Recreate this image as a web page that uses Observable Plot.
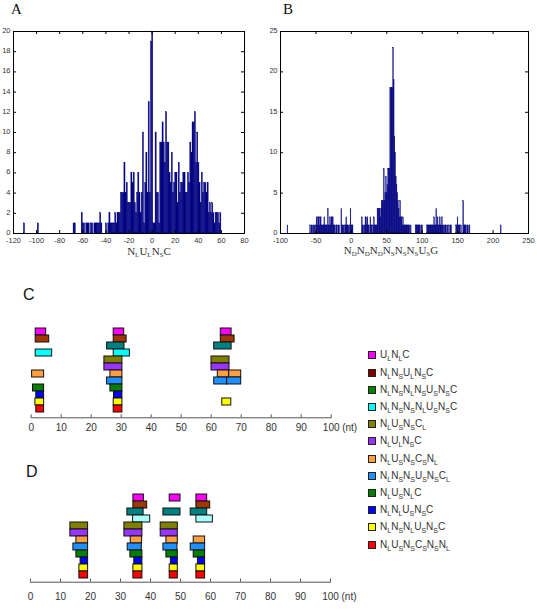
<!DOCTYPE html>
<html><head><meta charset="utf-8">
<script src="https://cdn.jsdelivr.net/npm/d3@7"></script>
<script src="https://cdn.jsdelivr.net/npm/@observablehq/plot@0.6"></script>
<style>
body{margin:0;background:#fff;}
#fig{position:relative;width:537px;height:610px;overflow:hidden;background:#fff;font-family:"Liberation Sans",Arial,sans-serif;}
#fig svg{position:absolute;overflow:hidden;}
.abs{position:absolute;white-space:nowrap;}
.pserif{font-family:"Liberation Serif","Times New Roman",serif;font-size:15px;line-height:15px;color:#111;}
.psans{font-size:16px;line-height:16px;color:#111;}
.xlab{font-family:"Liberation Serif","Times New Roman",serif;font-size:11px;line-height:11px;color:#333;transform:translateX(-50%);}
.xlab sub{font-size:7px;vertical-align:-2px;line-height:0;}
.leg{font-size:10px;line-height:12px;color:#333;}
.leg .sw{position:absolute;left:0;top:2px;width:6px;height:6px;border:1px solid #222;}
.leg .tx{position:absolute;left:12px;top:0;}
.leg sub{font-size:7px;vertical-align:-3px;line-height:0;}
</style></head><body><div id="fig"></div><script>
// ---------- Panel A histogram (bin left edge, count) ----------
const aBins = [
 -111,-99,-68,-67,-61,-60,-59,-57,-56,-55,
 -53,-52,-50,-49,-48,-47,-46,-45,-44,-40,
 -38,-37,-36,-35,-34,-33,-32,-31,-30,-29,
 -28,-27,-26,-25,-24,-23,-22,-21,-20,-19,
 -18,-17,-16,-15,-14,-13,-12,-11,-10,-9,
 -8,-7,-6,-5,-4,-3,-2,-1,0,1,
 2,3,4,5,6,7,8,9,10,11,
 12,13,14,15,16,17,18,19,20,21,
 22,23,24,25,26,27,28,29,30,31,
 32,33,34,35,36,37,38,39,40,41,
 42,43,44,45,46,47,48,49,50,51,
 52,53,54,55,56,57,58,59];
const aCounts = [
 1,1,1,1,2,1,1,1,1,1,
 1,1,1,1,1,1,1,2,1,1,
 1,2,1,1,1,1,2,1,2,2,
 2,4,4,4,7,4,5,3,3,3,
 6,5,6,3,2,4,6,4,2,4,
 10,1,5,8,4,13,4,19,20,1,
 1,10,4,4,1,9,9,11,9,7,
 12,9,9,6,5,8,4,5,6,6,
 3,7,4,5,5,6,6,4,4,6,
 5,9,8,11,11,12,7,10,7,5,
 3,6,4,5,5,4,5,2,3,2,
 3,2,1,2,2,2,1,2];
const aXTicks = [-120,-100,-80,-60,-40,-20,0,20,40,60,80];
const aYTicks = [0,2,4,6,8,10,12,14,16,18,20];

// ---------- Panel B histogram ----------
const bBins = [
 -90,
 -58,-56,-55,-53,-52,-50,-49,-48,-47,-46,
 -45,-44,-43,-42,-41,-40,-39,-38,-37,-36,
 -35,-34,-33,-32,-31,-30,-29,-28,-27,-26,
 -25,-24,-23,-21,-20,-18,-17,-14,-13,-12,
 -11,-9,-8,-7,-6,-5,-4,-2,-1,0,
 1,2,15,16,17,19,20,21,22,23,
 24,25,27,28,29,31,32,33,34,35,
 36,37,38,39,40,41,42,43,44,45,
 46,47,48,49,50,51,52,53,54,55,
 56,57,58,59,60,61,62,63,64,65,
 66,67,68,69,70,71,72,73,74,75,
 76,77,78,79,80,81,82,84,91,92,
 93,94,95,96,97,99,100,107,108,109,
 110,111,112,113,114,115,116,117,118,119,
 120,121,122,123,124,125,126,127,128,129,
 130,132,133,134,136,138,140,141,148,149,
 150,151,152,153,155,158,159,160,161,162,
 164,165,167,211];
const bCounts = [
 1,
 1,1,1,1,1,1,2,1,2,2,
 1,2,2,1,1,1,1,2,1,1,
 1,1,3,1,1,2,1,2,2,2,
 1,1,1,1,1,1,1,3,1,1,
 1,1,1,2,1,1,1,1,3,1,
 1,1,2,1,1,1,2,2,1,2,
 1,1,2,1,1,1,2,1,1,1,
 1,3,3,3,3,2,3,4,4,4,
 8,4,5,7,5,6,8,8,8,18,
 18,18,18,23,19,12,10,7,6,5,
 4,3,2,4,2,2,1,2,1,1,
 1,1,1,1,1,1,1,1,1,1,
 1,1,1,1,1,1,1,1,1,1,
 1,1,1,1,1,1,1,2,1,1,
 3,1,2,1,1,2,1,1,2,1,
 1,1,1,1,1,1,1,1,1,1,
 2,1,1,1,1,4,1,1,1,1,
 1,1,1,1];
const bXTicks = [-100,-50,0,50,100,150,200,250];
const bYTicks = [0,5,10,15,20,25];

// ---------- Categories (legend order, top to bottom) ----------
const categories = [
 "U_L N_L C", "N_L N_S U_L N_S C", "N_L N_S N_L N_S U_S N_S C", "N_L N_S N_S N_L U_S N_S C",
 "N_L U_S N_S C_L", "N_L U_L N_S C", "N_L U_S N_S C_S N_L", "N_L N_S N_S U_S N_S C_L",
 "N_L U_S N_L C", "N_L N_L U_S N_S C", "N_L N_S N_L U_S N_S C", "N_L U_S N_S C_S N_S N_L"];
const catColors = ["#ff00ff","#a03600","#008080","#00ffff","#808000","#9933ff","#ff9f40","#1e90ff","#007f00","#0000ff","#ffff00","#ff0000"];
const legendColors = ["#ff00ff","#800000","#007f00","#00ffff","#808000","#9933ff","#ff9f40","#1e90ff","#007f00","#0000ff","#ffff00","#ff0000"];
const dCyan = "#aaffff";

// ---------- Panel C segments (category index, start nt, end nt) ----------
const cCat = [0,0,0, 1,1,1, 2,2, 3,3, 4,4, 5,5, 6,6,6,6, 7,7,7, 8,8, 9,9, 10,10,10, 11,11];
const cX1 = [1.5,27.5,63.2, 1.5,27.5,63.2, 25.3,61, 1.5,27.5, 24.4,60.1, 24.4,60.1, 0.3,26.4,62.2,66, 25.3,61,65.3, 0.6,26.4, 1.7,27.6, 1.4,27.5,63.7, 1.7,27.5];
const cX2 = [5,31,66.8, 6,31.8,67.8, 31.1,66.8, 7,32.9, 30.4,66.1, 30.4,66.1, 4.3,30.4,66,70, 30.4,65.3,70, 4.3,30.4, 4.3,30.4, 4.3,30.4,66.7, 4.3,30.4];

// ---------- Panel D segments ----------
const dCat = [0,0,0, 1,1, 2,2,2, 3,3, 4,4,4, 5,5,5, 6,6,6,6, 7,7,7,7, 8,8,8,8, 9,9,9,9, 10,10,10,10, 11,11,11,11];
const dX1 = [34.3,46.4,55.3, 34.3,55.3, 32.3,44.3,53.4, 34.2,55.3, 13.3,31.3,43.4, 13.3,31.3,43.4, 15.3,33.4,45.3,54.4, 14.3,32.4,44.3,53.4, 15.3,33.3,45.3,54.4, 16.7,34.6,46.8,55.8, 16.3,34.3,46.4,55.3, 16.3,34.3,46.4,55.3];
const dX2 = [37.8,50,58.9, 38.9,59.9, 37.7,50,58.9, 39.9,60.8, 19.2,37.3,49.1, 19.2,37.3,49.1, 19.2,37.2,49.1,58.2, 19.2,37.1,49,58.2, 19.2,37.3,49.1,58.2, 19.2,37.3,49.1,58.2, 19.2,37.3,49.1,58.2, 19.2,37.3,49.1,58.2];
const ntTicks = [0,10,20,30,40,50,60,70,80,90,100];

const fig = document.getElementById("fig");
function place(el, left, top) { el.style.left = left + "px"; el.style.top = top + "px"; fig.appendChild(el); return el; }
function subHTML(s) { return s.split(" ").map(t => { const [a,b] = t.split("_"); return b ? `${a}<sub>${b}</sub>` : a; }).join(""); }
function addText(html, cls, left, top) { const d = document.createElement("div"); d.className = "abs " + cls; d.innerHTML = html; return place(d, left, top); }

function hist(bins, counts, o) {
  const data = bins.map((b, i) => ({b, c: counts[i]}));
  const innerW = o.width - o.ml - o.mr, innerH = o.height - o.mt - o.mb;
  return Plot.plot({
    width: o.width, height: o.height,
    marginLeft: o.ml, marginRight: o.mr, marginTop: o.mt, marginBottom: o.mb,
    x: {domain: o.xd}, y: {domain: o.yd},
    style: {fontFamily: "'Liberation Sans', Arial, sans-serif", fontSize: "7.5px", color: "#333", background: "transparent"},
    marks: [
      Plot.rectY(data, {x1: "b", x2: d => d.b + 1, y1: 0, y2: "c", fill: "#000080", stroke: "#000080", strokeWidth: 0.35}),
      Plot.frame({stroke: "#000"}),
      Plot.tickX(o.xt, {x: d => d, insetTop: innerH - 3, stroke: "#000"}),
      Plot.tickX(o.xt, {x: d => d, insetBottom: innerH - 3, stroke: "#000"}),
      Plot.tickY(o.yt, {y: d => d, insetRight: innerW - 3, stroke: "#000"}),
      Plot.tickY(o.yt, {y: d => d, insetLeft: innerW - 3, stroke: "#000"}),
      Plot.axisX({ticks: o.xt, tickSize: 0, tickPadding: 4, label: null, tickFormat: d => String(d)}),
      Plot.axisY({ticks: o.yt, tickSize: 0, tickPadding: 3, label: null, tickFormat: d => String(d), dy: -1})
    ]
  });
}

function segs(cat, x1, x2, o) {
  const data = cat.map((c, i) => ({cat: categories[c], x1: x1[i], x2: x2[i], fill: (o.cyan && c === 3) ? o.cyan : catColors[c]}));
  const innerH = o.height - o.mt - o.mb;
  return Plot.plot({
    width: o.width, height: o.height,
    marginLeft: o.ml, marginRight: o.mr, marginTop: o.mt, marginBottom: o.mb,
    x: {domain: [0, 100]},
    y: {domain: categories, padding: 0, axis: null},
    color: {type: "identity"},
    style: {fontFamily: "'Liberation Sans', Arial, sans-serif", fontSize: "10px", color: "#333", background: "transparent"},
    marks: [
      Plot.frame({anchor: "bottom", stroke: "#555"}),
      Plot.tickX(ntTicks, {x: d => d, insetTop: innerH - 3, stroke: "#555"}),
      Plot.barX(data, {x1: "x1", x2: "x2", y: "cat", fill: "fill", stroke: "#111", strokeWidth: 1}),
      Plot.axisX({ticks: ntTicks, tickSize: 0, tickPadding: o.pad, label: null, tickFormat: d => String(d)}),
      Plot.text(["(nt)"], {text: d => d, frameAnchor: "bottom-right", dx: 11, dy: o.pad, textAnchor: "start", lineAnchor: "top", fill: "#333"})
    ]
  });
}

// Panel A
place(hist(aBins, aCounts, {width: 260, height: 250, ml: 13, mr: 16, mt: 31, mb: 17, xd: [-120, 80], yd: [0, 20], xt: aXTicks, yt: aYTicks}), 0, 0);
// Panel B
place(hist(bBins, bCounts, {width: 267, height: 250, ml: 10, mr: 9, mt: 31, mb: 17, xd: [-100, 250], yd: [0, 25], xt: bXTicks, yt: bYTicks}), 270, 0);
// Panel C
place(segs(cCat, cX1, cX2, {width: 380, height: 140, ml: 30.7, mr: 49.3, mt: 23.3, mb: 22.7, pad: 6}), 0, 300);
// Panel D
place(segs(dCat, dX1, dX2, {width: 380, height: 160, ml: 30, mr: 50, mt: 40.7, mb: 28.3, pad: 11, cyan: dCyan}), 0, 450);

// Panel letters
addText("A", "pserif", 11, 2);
addText("B", "pserif", 283, 2);
addText("C", "psans", 23, 287);
addText("D", "psans", 26, 464);

// Histogram axis titles
addText(subHTML("N_L U_L N_S C"), "xlab", 149, 246);
addText(subHTML("N_D N_D N_D N_S N_S N_S U_S G"), "xlab", 391, 245);

// Legend
categories.forEach((c, i) => {
  const row = document.createElement("div");
  row.className = "abs leg";
  row.innerHTML = `<div class="sw" style="background:${legendColors[i]}"></div><div class="tx">${subHTML(c)}</div>`;
  place(row, 368, 349.3 + i * 17.2);
});
</script></body></html>
